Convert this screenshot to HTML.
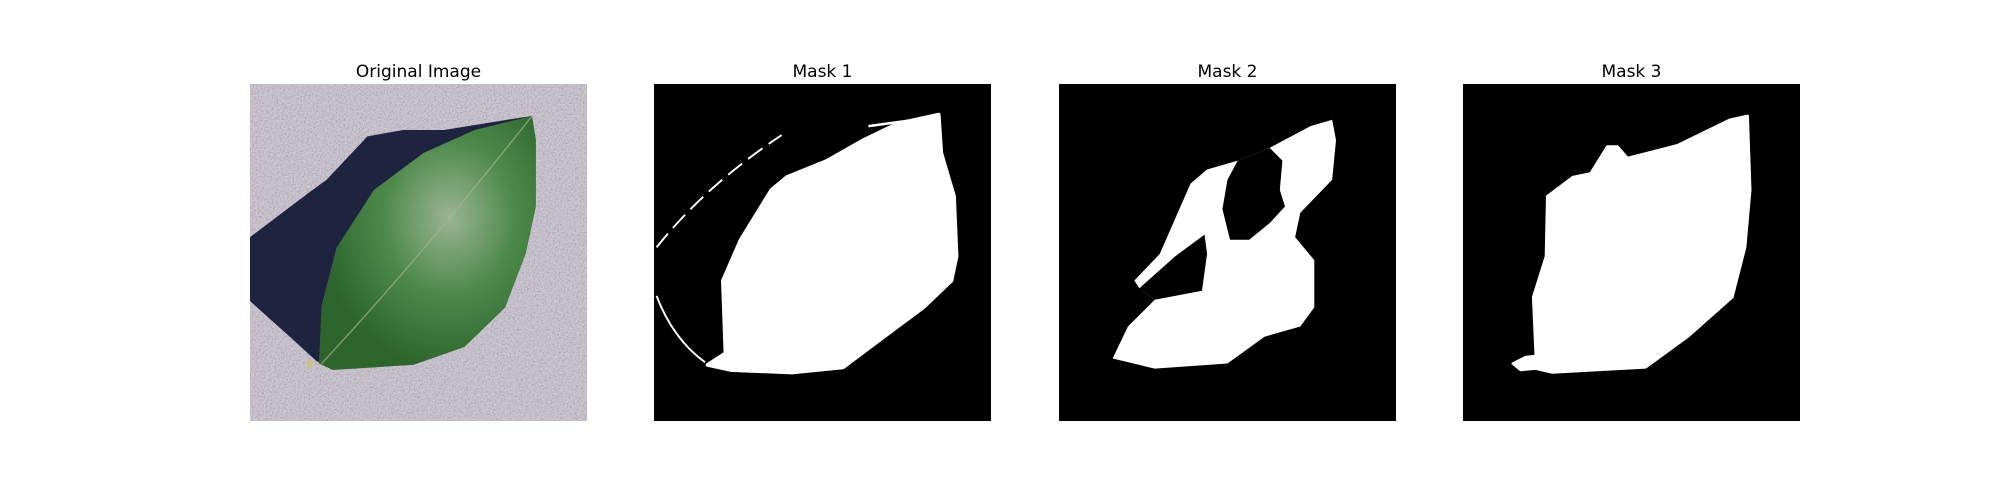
<!DOCTYPE html>
<html><head><meta charset="utf-8"><style>
body{margin:0;background:#fff;width:2000px;height:500px;position:relative;overflow:hidden;font-family:"Liberation Sans","DejaVu Sans",sans-serif}
.t{position:absolute;top:62px;width:337px;text-align:center;font-size:17px;color:#000;font-family:"DejaVu Sans","Liberation Sans",sans-serif}
svg.p{position:absolute;top:84px;width:337px;height:337px}
</style></head><body>
<div class="t" style="left:250px">Original Image</div>
<div class="t" style="left:654px">Mask 1</div>
<div class="t" style="left:1059px">Mask 2</div>
<div class="t" style="left:1463px">Mask 3</div>

<svg class="p" style="left:250px" viewBox="0 0 264 264" preserveAspectRatio="none">
<defs>
<filter id="n" x="0" y="0" width="100%" height="100%"><feTurbulence type="fractalNoise" baseFrequency="0.8" numOctaves="2"/><feColorMatrix type="matrix" values="0 0 0 1.2 -0.3 0 0 0 1.2 -0.3 0 0 0 1.2 -0.25 0 0 0 0 1"/></filter>
<radialGradient id="lg" cx="0.6" cy="0.4" r="0.6"><stop offset="0" stop-color="#9ab494"/><stop offset="0.5" stop-color="#4f8a4c"/><stop offset="1" stop-color="#2d652d"/></radialGradient>
</defs>
<rect width="264" height="264" fill="#fff" filter="url(#n)"/>
<rect width="264" height="264" fill="#d2cad6" opacity="0.78"/>
<polygon fill="#1e2440" points="221,25 208,27 152,36 120,36 92,41 60,75 45,86 0,120 0,170 29,196 52,217 65,224 56,175 68,128"/>
<polygon fill="url(#lg)" points="221,25 224,44 224,96 216,133 200,175 168,206 128,220 65,224 54,219 56,175 68,128 97,83 136,54 176,36"/>
<path d="M56,219 Q130,140 221,25" stroke="#a9b58c" stroke-width="1" fill="none" opacity="0.7"/>
<circle cx="47" cy="219" r="3" fill="#c8c48a"/>
</svg>

<svg class="p" style="left:654px" viewBox="0 0 264 264" preserveAspectRatio="none">
<rect width="264" height="264" fill="#000"/>
<polygon fill="#fff" stroke="#fff" stroke-width="3" stroke-linejoin="round" points="223,24 225,54 235,88 237,135 233,154 211,175 176,201 148,222 108,226 60,224 42,220 56,211 54,154 68,122 92,83 104,73 136,60 164,44 191,31"/>
<path d="M2,128 Q40,80 100,40" stroke="#fff" stroke-width="1.5" fill="none" stroke-dasharray="14 6"/>
<path d="M2,166 Q15,200 40,218" stroke="#fff" stroke-width="1.5" fill="none"/>
<path d="M168,33 L205,28" stroke="#fff" stroke-width="2" fill="none"/>
</svg>

<svg class="p" style="left:1059px" viewBox="0 0 264 264" preserveAspectRatio="none">
<rect width="264" height="264" fill="#000"/>
<polygon fill="#fff" points="214,28 217,44 214,75 189,101 185,120 200,138 200,175 189,190 161,198 132,219 75,223 42,215 54,190 75,169 63,160 59,154 79,133 103,78 116,67 140,60 165,50 197,33"/>
<polygon fill="#000" points="140,60 165,50 175,60 173,83 177,96 165,109 149,122 134,122 128,98 132,75"/>
<polygon fill="#000" points="63,160 91,135 114,118 116,133 112,162 75,169"/>
</svg>

<svg class="p" style="left:1463px" viewBox="0 0 264 264" preserveAspectRatio="none">
<rect width="264" height="264" fill="#000"/>
<polygon fill="#fff" stroke="#fff" stroke-width="2" stroke-linejoin="round" points="223,25 225,83 221,128 211,167 176,198 143,222 70,226 57,223 45,224 39,219 49,214 57,213 55,167 65,135 66,88 86,73 100,70 113,49 121,49 129,58 168,48 209,28"/>
</svg>
</body></html>
